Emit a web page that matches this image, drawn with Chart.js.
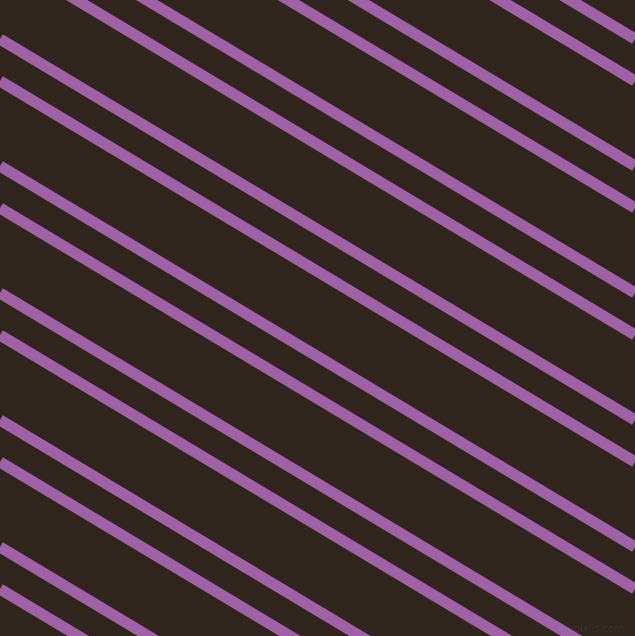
<!DOCTYPE html>
<html>
<head>
<meta charset="utf-8">
<script src="https://cdn.jsdelivr.net/npm/chart.js@4"></script>
<style>
  html, body { margin: 0; padding: 0; background: #30251d; overflow: hidden; }
  canvas { display: block; background: #30251d; }
</style>
</head>
<body>
<canvas id="stripes" width="635" height="636"></canvas>
<script>
// stripe positions: y where each stripe meets the left and right edge
const edgeX = [0, 635];
const leftY = [-342, -300, -215, -173, -88, -46, 39, 81, 166, 208, 293, 335, 420, 462, 547, 589];
const rightY = [39, 81, 166, 208, 293, 335, 420, 462, 547, 589, 674, 716, 801, 843, 928, 970];

const stripeColor = '#a062a6';
const bgColor = '#30251d';

// faint site mark in the lower right corner
const watermark = {
  id: 'watermark',
  afterDraw(chart) {
    const c = chart.ctx;
    c.save();
    c.font = '10px "DejaVu Sans"';
    c.fillStyle = 'rgba(255,255,255,0.05)';
    c.textAlign = 'right';
    c.textBaseline = 'bottom';
    c.fillText('pixlis.com', 624, 634);
    c.restore();
  }
};

const datasets = leftY.map((y0, i) => ({
  data: [{ x: edgeX[0], y: y0 }, { x: edgeX[1], y: rightY[i] }],
  borderColor: stripeColor,
  borderWidth: 11,
  pointRadius: 0,
  fill: false
}));

new Chart(document.getElementById('stripes').getContext('2d'), {
  type: 'line',
  data: { datasets },
  options: {
    responsive: false,
    devicePixelRatio: 1,
    animation: false,
    layout: { padding: 0 },
    plugins: { legend: { display: false }, tooltip: { enabled: false } },
    scales: {
      x: { type: 'linear', min: 0, max: 635, display: false },
      y: { type: 'linear', min: 0, max: 636, reverse: true, display: false }
    }
  },
  plugins: [watermark]
});
</script>
</body>
</html>
